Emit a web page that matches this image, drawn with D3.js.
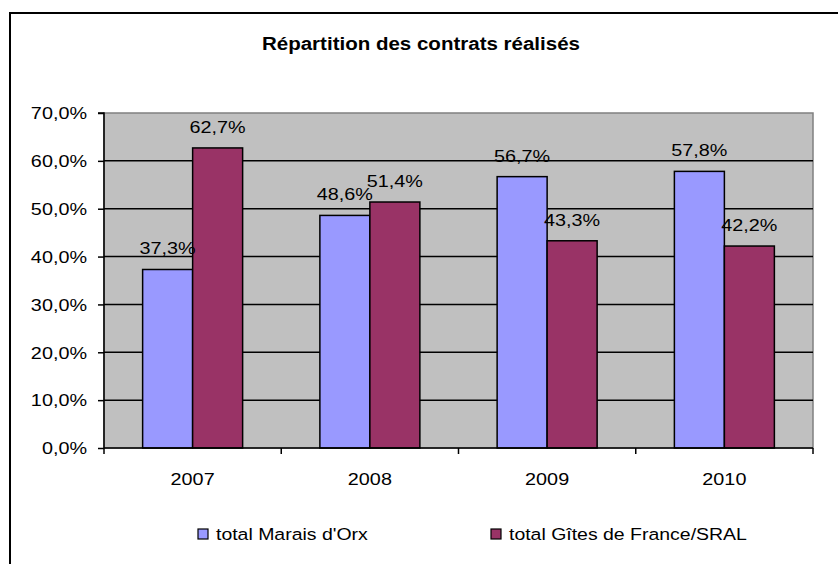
<!DOCTYPE html>
<html>
<head>
<meta charset="utf-8">
<script src="https://cdn.jsdelivr.net/npm/d3@7"></script>
<style>
  html, body { margin: 0; padding: 0; background: #fff; }
  svg { display: block; font-family: "Liberation Sans", Arial, sans-serif; }
</style>
</head>
<body>
<script>
// Chart data
const years = ["2007", "2008", "2009", "2010"];
const seriesNames = ["total Marais d'Orx", "total Gîtes de France/SRAL"];
const marais = [37.3, 48.6, 56.7, 57.8];
const gites = [62.7, 51.4, 43.3, 42.2];
const yTicks = [0, 10, 20, 30, 40, 50, 60, 70];
const colors = ["#9999FF", "#993366"];

const W = 838, H = 564;
const plot = { left: 104, top: 113, right: 813, bottom: 448 };
const FONT = "'Liberation Sans', Arial, sans-serif";
const LABEL_SIZE = 16.5;
const STRETCH = 1.2;   // wide lettering of the labels

// Widen text horizontally around its own anchor point
function widen(sel, s) {
  sel.each(function () {
    const t = d3.select(this);
    const ax = +t.attr("x") || 0;
    t.attr("transform", `translate(${ax},0) scale(${s},1) translate(${-ax},0)`);
  });
}

const svg = d3.select("body").append("svg").attr("width", W).attr("height", H);

// Outer chart frame
svg.append("rect")
  .attr("x", 10).attr("y", 13).attr("width", 850).attr("height", 580)
  .attr("fill", "#fff").attr("stroke", "#000").attr("stroke-width", 2);

// Title
svg.append("text")
  .attr("x", 421).attr("y", 50)
  .attr("text-anchor", "middle")
  .attr("font-weight", "bold").attr("font-size", 19)
  .text("Répartition des contrats réalisés")
  .call(widen, 1.08);

const x = d3.scaleBand().domain(years).range([plot.left, plot.right]).paddingInner(0).paddingOuter(0);
const y = d3.scaleLinear().domain([0, 70]).range([plot.bottom, plot.top]);
const inner = d3.scaleBand().domain([0, 1]).range([0, x.bandwidth()]).paddingInner(0).paddingOuter(0.7725);

// Plot background
svg.append("rect")
  .attr("x", plot.left).attr("y", plot.top)
  .attr("width", plot.right - plot.left).attr("height", plot.bottom - plot.top)
  .attr("fill", "#C0C0C0").attr("stroke", "#808080").attr("stroke-width", 1.5);

// Gridlines
svg.append("g").selectAll("line")
  .data(yTicks.filter(t => t > 0 && t < 70))
  .join("line")
  .attr("x1", plot.left).attr("x2", plot.right)
  .attr("y1", d => y(d)).attr("y2", d => y(d))
  .attr("stroke", "#000").attr("stroke-width", 1.5);

// Bars
const rows = years.map((yr, i) => ({ year: yr, values: [marais[i], gites[i]] }));
const groups = svg.append("g").selectAll("g")
  .data(rows).join("g")
  .attr("transform", d => `translate(${x(d.year)},0)`);

groups.selectAll("rect")
  .data(d => d.values.map((v, s) => ({ v, s })))
  .join("rect")
  .attr("x", d => inner(d.s))
  .attr("y", d => y(d.v))
  .attr("width", inner.bandwidth())
  .attr("height", d => y(0) - y(d.v))
  .attr("fill", d => colors[d.s])
  .attr("stroke", "#000").attr("stroke-width", 1.5);

// Value labels
const fmt = v => v.toFixed(1).replace(".", ",") + "%";
groups.selectAll("text")
  .data(d => d.values.map((v, s) => ({ v, s })))
  .join("text")
  .attr("x", d => inner(d.s) + inner.bandwidth() / 2)
  .attr("y", d => y(d.v) - 15)
  .attr("text-anchor", "middle")
  .attr("font-size", LABEL_SIZE)
  .text(d => fmt(d.v))
  .call(widen, STRETCH);

// Y axis
const yAxis = d3.axisLeft(y).tickValues(yTicks).tickSize(6).tickPadding(11)
  .tickFormat(d => d.toFixed(1).replace(".", ",") + "%");
const gy = svg.append("g").attr("transform", `translate(${plot.left},0)`).call(yAxis);
gy.select(".domain").attr("stroke", "#000").attr("stroke-width", 1.5).attr("d", `M-6,${plot.top}H0V${plot.bottom}`);
gy.selectAll(".tick line").attr("stroke", "#000").attr("stroke-width", 1.5);
gy.selectAll(".tick text").attr("font-size", LABEL_SIZE).attr("fill", "#000").attr("dy", "0.35em")
  .attr("font-family", FONT).call(widen, STRETCH);

// X axis
const xAxis = d3.axisBottom(x).tickSize(0).tickPadding(25);
const gx = svg.append("g").attr("transform", `translate(0,${plot.bottom})`).call(xAxis);
gx.select(".domain").attr("stroke", "#000").attr("stroke-width", 1.5).attr("d", `M${plot.left},0H${plot.right}`);
gx.selectAll(".tick text").attr("font-size", LABEL_SIZE).attr("fill", "#000")
  .attr("font-family", FONT).call(widen, STRETCH);
// Category separator ticks
gx.append("g").selectAll("line")
  .data(years.map(d => x(d)).concat([plot.right]))
  .join("line")
  .attr("x1", d => d).attr("x2", d => d)
  .attr("y1", 0).attr("y2", 6)
  .attr("stroke", "#000").attr("stroke-width", 1.5);

// Legend
const legendX = [198, 491];
const legend = svg.append("g").selectAll("g")
  .data(seriesNames).join("g")
  .attr("transform", (d, i) => `translate(${legendX[i]},529)`);
legend.append("rect")
  .attr("width", 10).attr("height", 10)
  .attr("fill", (d, i) => colors[i])
  .attr("stroke", "#000").attr("stroke-width", 1.2);
legend.append("text")
  .attr("x", 18).attr("y", 11)
  .attr("font-size", LABEL_SIZE)
  .text(d => d)
  .call(widen, 1.18);
</script>
</body>
</html>
